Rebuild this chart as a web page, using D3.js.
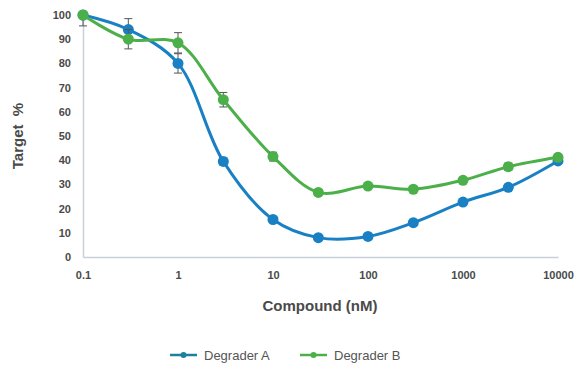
<!DOCTYPE html>
<html>
<head>
<meta charset="utf-8">
<script src="https://cdn.jsdelivr.net/npm/d3@7"></script>
<style>
  body { margin: 0; background: #fff; }
  text { font-family: "Liberation Sans", Arial, sans-serif; }
</style>
</head>
<body>
<div id="chart"></div>
<script>
// concentrations (nM)
var doses = [0.1, 0.3, 1, 3, 10, 30, 100, 300, 1000, 3000, 10000];
var degraderA = [100, 94, 80, 39.5, 15.5, 8, 8.5, 14.2, 22.7, 28.8, 39.7];
var degraderB = [100, 90, 88.5, 65, 41.5, 26.7, 29.3, 28, 31.7, 37.3, 41.2];
var errA = [4.5, 4.5, 4, 1.5, 1, 1, 1, 1, 1, 1, 1];
var errB = [0, 4, 4.2, 3, 1.8, 1, 1, 1, 1, 1.5, 1];
var xTicks = [0.1, 1, 10, 100, 1000, 10000];
var yTicks = [0, 10, 20, 30, 40, 50, 60, 70, 80, 90, 100];
var seriesNames = ["Degrader A", "Degrader B"];
var colors = ["#1a80c4", "#4cb04a"];

var width = 581, height = 370;
var margin = {top: 15, right: 23, bottom: 113, left: 83};

var svg = d3.select("#chart").append("svg")
  .attr("width", width).attr("height", height);

var x = d3.scaleLog().domain([0.1, 10000]).range([margin.left, width - margin.right]);
var y = d3.scaleLinear().domain([0, 100]).range([height - margin.bottom, margin.top]);

// axes
var xAxis = svg.append("g")
  .attr("transform", "translate(0," + y(0) + ")")
  .call(d3.axisBottom(x).tickValues(xTicks).tickSize(0).tickPadding(14)
    .tickFormat(function(d) { return String(d); }));
xAxis.select(".domain").attr("stroke", "#c9cfdb").attr("stroke-width", 1.5);
xAxis.selectAll("text").attr("fill", "#4a4a4a").style("font-size", "11px").style("font-weight", "bold");

var yAxis = svg.append("g")
  .attr("transform", "translate(" + x(0.1) + ",0)")
  .call(d3.axisLeft(y).tickValues(yTicks).tickSize(0).tickPadding(12));
yAxis.select(".domain").attr("stroke", "#c9cfdb").attr("stroke-width", 1.5);
yAxis.selectAll("text").attr("fill", "#4a4a4a").style("font-size", "11px").style("font-weight", "bold");

// axis titles
svg.append("text")
  .attr("x", 320).attr("y", 311)
  .attr("text-anchor", "middle")
  .attr("fill", "#4a4a4a")
  .style("font-size", "15px").style("font-weight", "bold")
  .text("Compound (nM)");

svg.append("text")
  .attr("transform", "translate(23,136) rotate(-90)")
  .attr("text-anchor", "middle")
  .attr("fill", "#4a4a4a")
  .style("font-size", "15px").style("font-weight", "bold")
  .style("white-space", "pre")
  .text("Target  %");

var series = [
  {name: seriesNames[0], values: degraderA, err: errA, color: colors[0]},
  {name: seriesNames[1], values: degraderB, err: errB, color: colors[1]}
];

var line = d3.line()
  .curve(d3.curveCatmullRom.alpha(0.5))
  .x(function(d) { return x(d.dose); })
  .y(function(d) { return y(d.value); });

series.forEach(function(s) {
  var pts = doses.map(function(d, i) { return {dose: d, value: s.values[i], err: s.err[i]}; });
  var g = svg.append("g");
  g.append("path")
    .datum(pts)
    .attr("fill", "none")
    .attr("stroke", s.color)
    .attr("stroke-width", 3)
    .attr("d", line);

  // error bars
  var eb = g.selectAll(".err").data(pts.filter(function(p) { return p.err > 0; }))
    .enter().append("g").attr("stroke", "#555").attr("stroke-width", 1);
  eb.append("line")
    .attr("x1", function(p) { return x(p.dose); }).attr("x2", function(p) { return x(p.dose); })
    .attr("y1", function(p) { return y(Math.min(100, p.value + p.err)); })
    .attr("y2", function(p) { return y(p.value - p.err); });
  eb.append("line")
    .attr("x1", function(p) { return x(p.dose) - 4; }).attr("x2", function(p) { return x(p.dose) + 4; })
    .attr("y1", function(p) { return y(p.value - p.err); }).attr("y2", function(p) { return y(p.value - p.err); });
  eb.filter(function(p) { return p.value + p.err <= 100; }).append("line")
    .attr("x1", function(p) { return x(p.dose) - 4; }).attr("x2", function(p) { return x(p.dose) + 4; })
    .attr("y1", function(p) { return y(p.value + p.err); }).attr("y2", function(p) { return y(p.value + p.err); });

  g.selectAll("circle").data(pts).enter().append("circle")
    .attr("cx", function(p) { return x(p.dose); })
    .attr("cy", function(p) { return y(p.value); })
    .attr("r", 5.5)
    .attr("fill", s.color);
});

// legend
var legend = svg.append("g");
var legendX = [170, 300];
series.forEach(function(s, i) {
  var lg = legend.append("g").attr("transform", "translate(" + legendX[i] + ",355)");
  lg.append("line").attr("x1", 0).attr("x2", 27).attr("y1", 0).attr("y2", 0)
    .attr("stroke", i === 0 ? "#1f7f9f" : s.color).attr("stroke-width", 2.5);
  lg.append("circle").attr("cx", 13.5).attr("cy", 0).attr("r", 3)
    .attr("fill", i === 0 ? "#1f7f9f" : s.color);
  lg.append("text").attr("x", 34).attr("y", 4.5)
    .attr("fill", "#555").style("font-size", "13px")
    .text(s.name);
});
</script>
</body>
</html>
